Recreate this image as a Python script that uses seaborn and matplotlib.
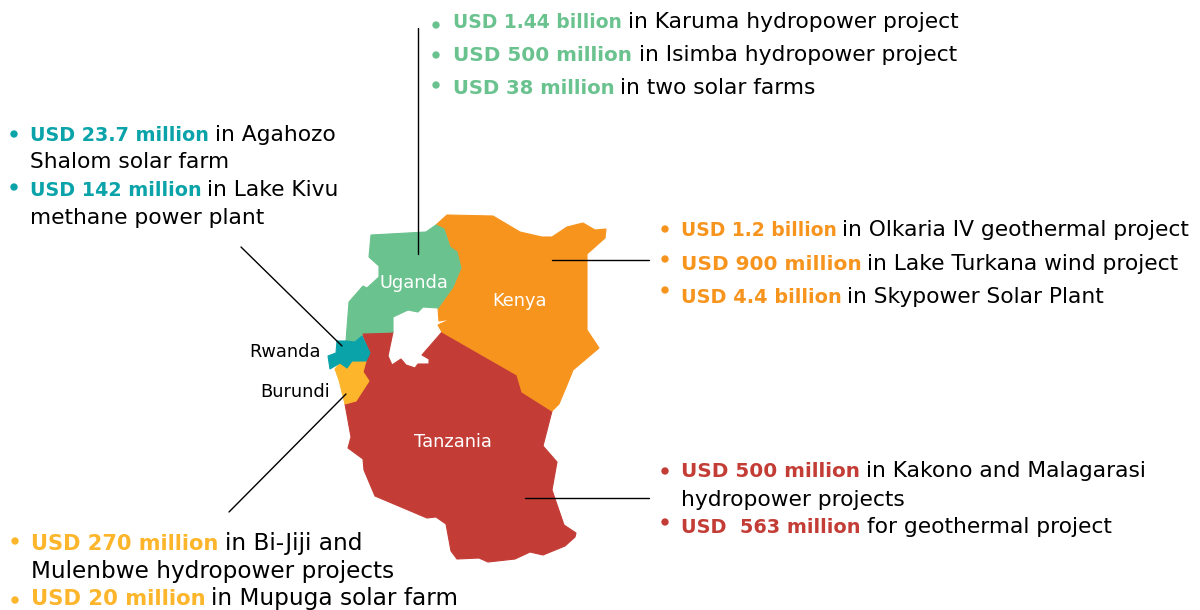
import matplotlib.pyplot as plt
import pandas as pd
import seaborn as sns

GREEN = "#6AC28E"
TEAL = "#09A3A9"
ORANGE = "#F7941E"
RED = "#C33D36"
YELLOW = "#FDB52B"

# country outlines, in image pixels
kenya_x = [436, 447, 493, 520, 542, 552, 567, 583, 595, 606, 605, 587, 587, 599, 573, 569, 559, 552, 522, 517, 442, 438, 451, 439, 438, 453, 461, 457, 450, 444]
kenya_y = [225, 215, 216, 232, 237, 237, 227, 223, 230, 229, 238, 254, 330, 348, 370, 380, 404, 411, 392, 375, 332, 325, 319, 321, 308, 287, 268, 252, 247, 229]
uganda_x = [436, 426, 371, 369, 379, 379, 367, 363, 349, 346, 355, 362, 362, 393, 393, 408, 418, 423, 438, 453, 461, 457, 450, 444]
uganda_y = [225, 232, 235, 257, 266, 277, 288, 286, 302, 341, 342, 336, 333, 332, 317, 310, 312, 307, 308, 287, 268, 252, 247, 229]
rwanda_x = [337, 346, 355, 362, 370, 366, 352, 347, 340, 330, 328, 336]
rwanda_y = [341, 341, 342, 336, 353, 361, 361, 368, 363, 369, 356, 353]
burundi_x = [335, 340, 347, 352, 366, 363, 369, 356, 345, 339]
burundi_y = [369, 363, 368, 361, 361, 372, 381, 401, 404, 380]
tanzania_x = [362, 393, 388, 392, 401, 406, 415, 418, 429, 429, 422, 442, 517, 522, 552, 543, 557, 552, 564, 576, 575, 565, 543, 530, 515, 488, 479, 457, 451, 446, 436, 427, 375, 364, 363, 348, 351, 345, 356, 369, 363, 366, 370]
tanzania_y = [333, 332, 356, 365, 359, 365, 368, 364, 364, 359, 355, 332, 375, 392, 411, 446, 462, 490, 525, 533, 537, 546, 555, 552, 559, 562, 558, 559, 551, 524, 517, 518, 496, 470, 459, 448, 437, 404, 401, 381, 372, 361, 353]

country_names = ["Uganda", "Kenya", "Tanzania"]
country_label_x = [414, 520, 453]
country_label_y = [288, 306, 447]
side_names = ["Rwanda", "Burundi"]
side_label_x = [285, 295]
side_label_y = [357, 397]

# leader lines
lines_x = [[418, 418], [552, 649], [525, 649], [241, 342], [229, 346]]
lines_y = [[28, 254], [260, 260], [498, 498], [247, 346], [512, 394]]

bullet_x = [436, 436, 436, 14, 14, 665, 665, 665, 665, 665, 15, 15]
bullet_y = [25, 55, 85, 134, 187, 229, 259, 290, 471, 522, 541, 600]
bullet_group = ["u", "u", "u", "r", "r", "k", "k", "k", "t", "t", "b", "b"]

green_bold = ["USD 1.44 billion", "USD 500 million", "USD 38 million"]
green_rest = ["in Karuma hydropower project", "in Isimba hydropower project", "in two solar farms"]
teal_bold = ["USD 23.7 million", "USD 142 million"]
teal_rest = ["in Agahozo", "in Lake Kivu"]
teal_wrap = ["Shalom solar farm", "methane power plant"]
orange_bold = ["USD 1.2 billion", "USD 900 million", "USD 4.4 billion"]
orange_rest = ["in Olkaria IV geothermal project", "in Lake Turkana wind project", "in Skypower Solar Plant"]
red_bold = ["USD 500 million", "USD  563 million"]
red_rest = ["in Kakono and Malagarasi", "for geothermal project"]
red_wrap = ["hydropower projects"]
yellow_bold = ["USD 270 million", "USD 20 million"]
yellow_rest = ["in Bi-Jiji and", "in Mupuga solar farm"]
yellow_wrap = ["Mulenbwe hydropower projects"]

sns.set_theme(style="white")
plt.rcParams["font.family"] = ["DejaVu Sans"]

fig, ax = plt.subplots(figsize=(12, 6.1), dpi=100)
fig.subplots_adjust(0, 0, 1, 1)

# thin same-colour edge closes the seams between neighbouring countries
for xs, ys, col in [(tanzania_x, tanzania_y, RED), (kenya_x, kenya_y, ORANGE),
                    (uganda_x, uganda_y, GREEN), (burundi_x, burundi_y, YELLOW),
                    (rwanda_x, rwanda_y, TEAL)]:
    ax.fill(xs, ys, color=col, lw=0.8)

for xs, ys in zip(lines_x, lines_y):
    sns.lineplot(x=xs, y=ys, color="black", lw=1, ax=ax, estimator=None, sort=False)

bullets = pd.DataFrame({"x": bullet_x, "y": bullet_y, "group": bullet_group})
sns.scatterplot(data=bullets, x="x", y="y", hue="group", s=28, linewidth=0, legend=False, ax=ax,
                palette={"u": GREEN, "r": TEAL, "k": ORANGE, "t": RED, "b": YELLOW})
ax.set_xlim(0, 1200)
ax.set_ylim(610, 0)
ax.axis("off")

SIZE = 15.7
SIZE_BIG = 16.7


def lead(x, y, bold, col, bsize, x2, rest, size=SIZE):
    ax.text(x, y, bold, color=col, fontsize=bsize, fontweight="bold", va="baseline")
    ax.text(x2, y, rest, color="black", fontsize=size, va="baseline")


for y, b, r, x2, bs in zip([28, 61, 94], green_bold, green_rest, [628, 639, 620], [13.5, 14.4, 14.1]):
    lead(453, y, b, GREEN, bs, x2, r)
for y, b, r, x2, bs in zip([141, 196], teal_bold, teal_rest, [215, 207], [13.8, 13.8]):
    lead(30, y, b, TEAL, bs, x2, r)
for y, t in zip([168, 224], teal_wrap):
    ax.text(30, y, t, color="black", fontsize=SIZE, va="baseline")
for y, b, r, x2, bs in zip([236, 270, 303], orange_bold, orange_rest, [842, 867, 847], [13.5, 14.5, 13.9]):
    lead(681, y, b, ORANGE, bs, x2, r)
for y, b, r, x2, bs in zip([477, 533], red_bold, red_rest, [866, 867], [14.4, 13.9]):
    lead(681, y, b, RED, bs, x2, r)
ax.text(681, 506, red_wrap[0], color="black", fontsize=SIZE, va="baseline")
for y, b, r, x2, bs in zip([550, 605], yellow_bold, yellow_rest, [225, 211], [15.1, 15.2]):
    lead(31, y, b, YELLOW, bs, x2, r, SIZE_BIG)
ax.text(31, 578, yellow_wrap[0], color="black", fontsize=SIZE_BIG, va="baseline")

for n, x, y in zip(country_names, country_label_x, country_label_y):
    ax.text(x, y, n, color="white", fontsize=12.8, ha="center", va="baseline")
for n, x, y in zip(side_names, side_label_x, side_label_y):
    ax.text(x, y, n, color="black", fontsize=12.8, ha="center", va="baseline")

fig.savefig("out.png", dpi=100)
